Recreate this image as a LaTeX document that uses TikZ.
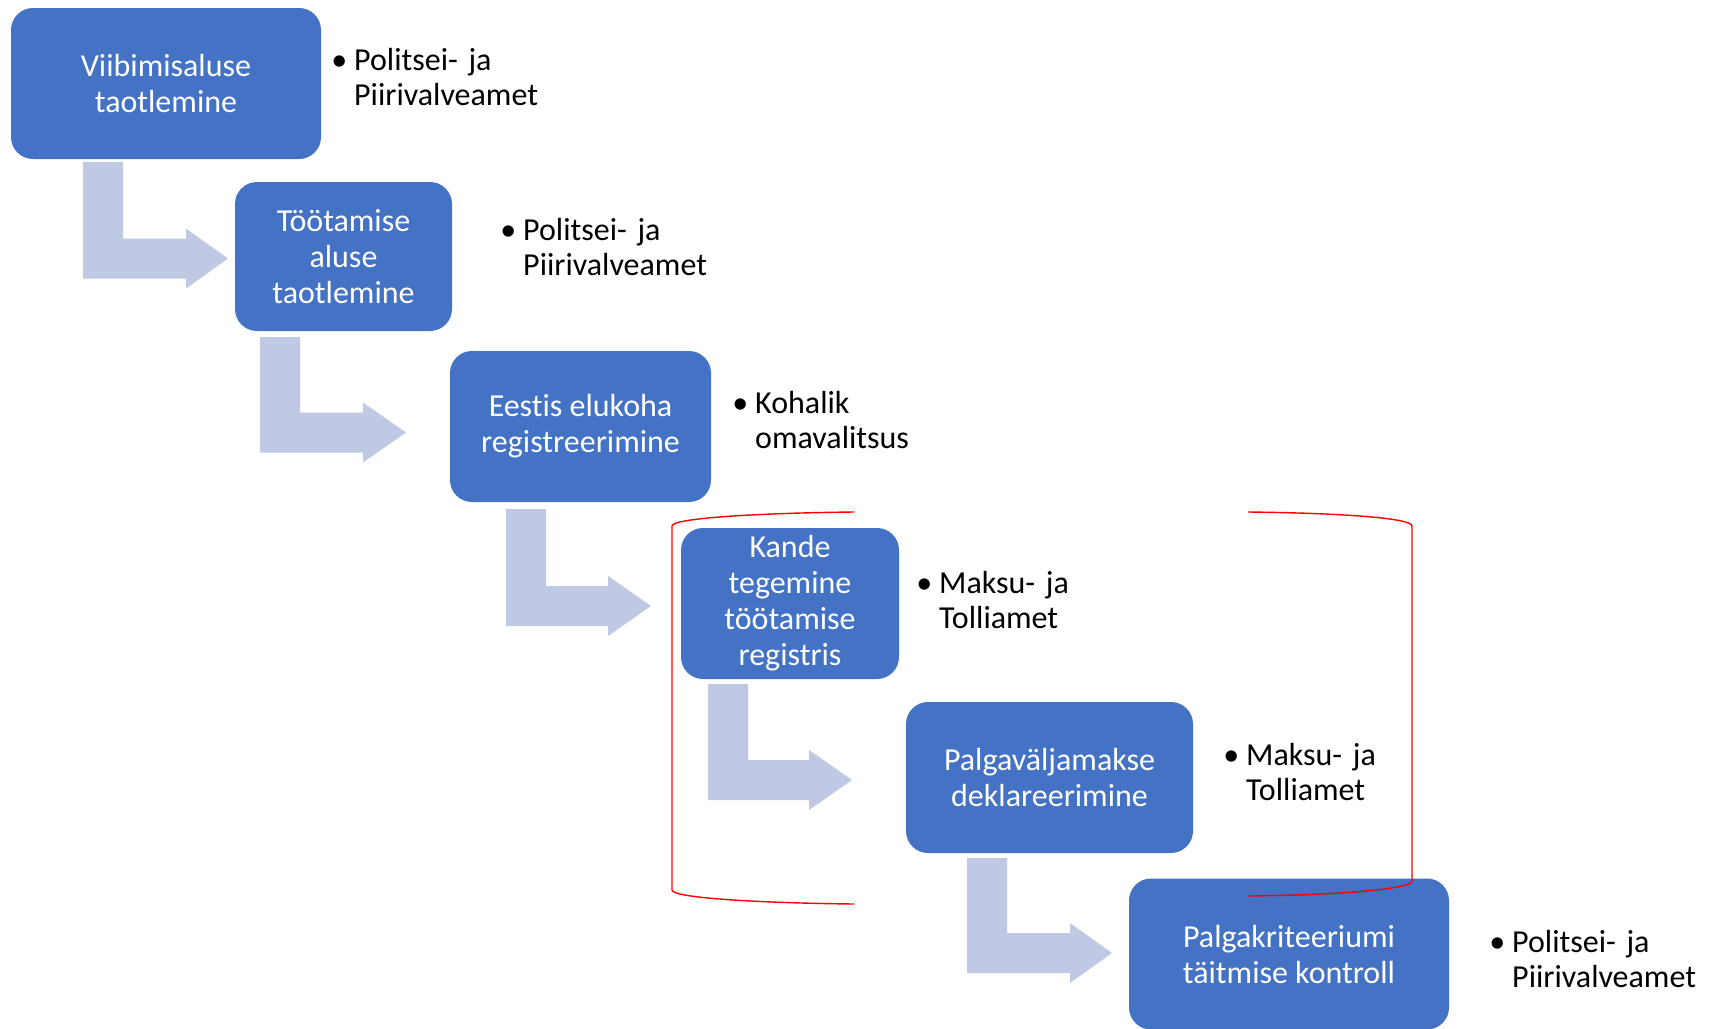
\documentclass[tikz,border=0pt]{standalone}
\usepackage{fontspec}
\setmainfont{Carlito}[Ligatures={NoCommon,NoDiscretionary,NoRare}]
\definecolor{boxblue}{HTML}{4472C4}
\definecolor{arrowblue}{HTML}{BFC9E3}
\definecolor{bracketred}{HTML}{FF0000}
\newcommand{\bentarrow}[5]{%
  \fill[arrowblue] (#1,#2) -- ({#1+40},#2) -- ({#1+40},{#3-20}) -- (#4,{#3-20}) -- (#4,{#3-30})
    -- (#5,#3) -- (#4,{#3+30}) -- (#4,{#3+20}) -- (#1,{#3+20}) -- cycle;}
\begin{document}
\begin{tikzpicture}[x=1pt,y=-1pt,
  stepbox/.style={fill=boxblue, rounded corners=22pt, text=white, align=center,
    inner sep=0pt, font=\fontsize{32}{36}\selectfont},
  bullettext/.style={anchor=base west, inner sep=0pt, text width=260pt, align=left,
    font=\fontsize{32}{35.5}\selectfont},
  bracket/.style={draw=bracketred, line width=1.4pt}]
\useasboundingbox (0,0) rectangle (1715,1028);
% arrows
\bentarrow{83}{162}{258.5}{186}{228}
\bentarrow{260}{337}{432.5}{363}{406}
\bentarrow{506}{509}{606}{608}{651}
\bentarrow{708}{684}{780}{809}{852}
\bentarrow{967}{858}{953}{1070}{1112}
% boxes
\node[stepbox, minimum width=310pt, minimum height=151pt] (b1) at (166,83.5) {Viibimisaluse\\taotlemine};
\node[stepbox, minimum width=217pt, minimum height=149pt] (b2) at (343.5,256.5) {Töötamise\\aluse\\taotlemine};
\node[stepbox, minimum width=261pt, minimum height=151pt] (b3) at (580.5,426.5) {Eestis elukoha\\registreerimine};
\node[stepbox, minimum width=218pt, minimum height=151pt] (b4) at (790,603.5) {Kande\\tegemine\\töötamise\\registris};
\node[stepbox, minimum width=287pt, minimum height=151pt] (b5) at (1049.5,777.5) {Palgaväljamakse\\deklareerimine};
\node[stepbox, minimum width=320pt, minimum height=151pt] (b6) at (1289,954) {Palgakriteeriumi\\täitmise kontroll};
% bullet texts
\node[bullettext] (t1) at (354,70) {\llap{•\hspace{7pt}}Politsei- ja\\Piirivalveamet};
\node[bullettext] (t2) at (523,240) {\llap{•\hspace{7pt}}Politsei- ja\\Piirivalveamet};
\node[bullettext] (t3) at (755,413) {\llap{•\hspace{7pt}}Kohalik\\omavalitsus};
\node[bullettext] (t4) at (939,593) {\llap{•\hspace{7pt}}Maksu- ja\\Tolliamet};
\node[bullettext] (t5) at (1246,765) {\llap{•\hspace{7pt}}Maksu- ja\\Tolliamet};
\node[bullettext] (t6) at (1512,952) {\llap{•\hspace{7pt}}Politsei- ja\\Piirivalveamet};
% red brackets
\draw[bracket] (854,512) .. controls (760,513) and (672,518) .. (672,526) -- (672,890)
  .. controls (672,898) and (760,903) .. (854,904);
\draw[bracket] (1248,512) .. controls (1340,513) and (1412,518) .. (1412,526) -- (1412,881)
  .. controls (1412,889) and (1340,895) .. (1248,896);
\end{tikzpicture}
\end{document}
